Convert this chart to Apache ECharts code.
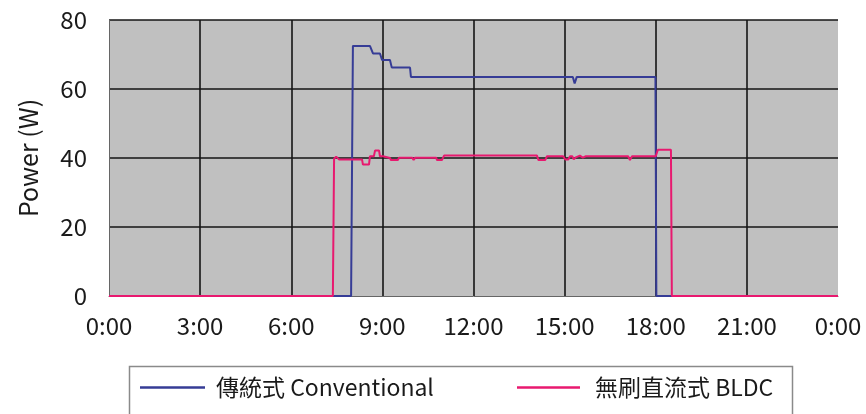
<!DOCTYPE html>
<html>
<head>
<meta charset="utf-8">
<script src="https://cdn.jsdelivr.net/npm/echarts@6/dist/echarts.min.js"></script>
<style>
html,body{margin:0;padding:0;background:#fff;}
#chart{width:866px;height:414px;}
</style>
</head>
<body>
<div id="chart"></div>
<script>
// ---- data (hours of day, watts) ----
const xTickLabels = ['0:00','3:00','6:00','9:00','12:00','15:00','18:00','21:00','0:00'];
const yTickValues = [0, 20, 40, 60, 80];
const seriesNames = ['傳統式 Conventional', '無刷直流式 BLDC'];

const convHours = [0, 7.97, 8.03, 8.59, 8.69, 8.92, 8.99, 9.25, 9.31, 9.91, 9.94, 15.27, 15.33, 15.40, 17.99, 18.02, 24];
const convWatts = [0, 0, 72.5, 72.5, 70.3, 70.3, 68.4, 68.4, 66.2, 66.2, 63.5, 63.5, 61.6, 63.5, 63.5, 0, 0];

const bldcHours = [0, 7.37, 7.41, 7.48, 7.51, 7.57, 8.33, 8.36, 8.56, 8.59, 8.72, 8.76, 8.89, 8.92, 9.02, 9.05, 9.25, 9.28, 9.51, 9.55, 9.98, 10.03, 10.08, 10.77, 10.80, 10.96, 11.03, 14.09, 14.14, 14.36, 14.42, 14.95, 15.02, 15.12, 15.18, 15.25, 15.30, 15.37, 15.50, 15.60, 15.70, 17.09, 17.15, 17.22, 18.0, 18.07, 18.50, 18.53, 24];
const bldcWatts = [0, 0, 39.8, 40.4, 40.4, 39.6, 39.6, 38.1, 38.1, 40.5, 40.5, 42.2, 42.2, 40.5, 40.5, 40.0, 40.0, 39.4, 39.4, 40.1, 40.1, 39.4, 40.1, 40.1, 39.4, 39.4, 40.7, 40.7, 39.4, 39.4, 40.5, 40.5, 39.6, 39.6, 40.5, 40.5, 39.6, 40.2, 40.7, 40.1, 40.5, 40.5, 39.4, 40.5, 40.5, 42.4, 42.4, 0, 0];

const pairs = (xs, ys) => xs.map((x, i) => [x, ys[i]]);

const FONT = "'Noto Sans CJK TC', 'Noto Sans', sans-serif";
const chart = echarts.init(document.getElementById('chart'), null, {renderer: 'canvas'});

chart.setOption({
  animation: false,
  backgroundColor: '#ffffff',
  textStyle: {fontFamily: FONT},
  grid: {
    left: 109, right: 28, top: 20, bottom: 118,
    show: true, backgroundColor: '#c0c0c0', borderWidth: 0
  },
  xAxis: {
    type: 'value', min: 0, max: 24, interval: 3,
    axisLine: {show: true, onZero: false, lineStyle: {color: '#666', width: 1}},
    axisTick: {show: false},
    axisLabel: {
      fontSize: 24, color: '#1a1a1a', fontFamily: FONT, margin: 18,
      formatter: v => xTickLabels[Math.round(v / 3)]
    },
    splitLine: {show: true, showMinLine: false, showMaxLine: false, lineStyle: {color: '#151515', width: 1.6}}
  },
  yAxis: {
    type: 'value', min: 0, max: 80, interval: 20,
    name: 'Power (W)', nameLocation: 'middle', nameRotate: 90, nameGap: 68,
    nameTextStyle: {fontSize: 25, color: '#1a1a1a', fontFamily: FONT},
    axisLine: {show: true, lineStyle: {color: '#666', width: 1}},
    axisTick: {show: false},
    axisLabel: {
      fontSize: 24, color: '#1a1a1a', fontFamily: FONT, margin: 22,
      formatter: v => (yTickValues.indexOf(v) >= 0 ? String(v) : '')
    },
    splitLine: {show: true, showMinLine: false, lineStyle: {color: '#151515', width: 1.6}}
  },
  legend: [
    {
      data: [seriesNames[0]], left: 140, top: 376, icon: 'rect',
      itemWidth: 65, itemHeight: 2.5, padding: 0,
      textStyle: {fontSize: 23, color: '#1a1a1a', fontFamily: FONT, padding: [0, 0, 0, 6]}
    },
    {
      data: [seriesNames[1]], left: 517, top: 376, icon: 'rect',
      itemWidth: 63, itemHeight: 2.5, padding: 0,
      textStyle: {fontSize: 23, color: '#1a1a1a', fontFamily: FONT, padding: [0, 0, 0, 10]}
    }
  ],
  graphic: [{
    type: 'rect', left: 127, top: 364, z: 0,
    shape: {width: 663, height: 70},
    style: {fill: 'none', stroke: '#8a8a8a', lineWidth: 1.5}
  }],
  series: [
    {
      name: seriesNames[0], type: 'line', data: pairs(convHours, convWatts),
      showSymbol: false, symbol: 'none', color: '#363c96',
      lineStyle: {color: '#363c96', width: 2}, z: 3
    },
    {
      name: seriesNames[1], type: 'line', data: pairs(bldcHours, bldcWatts),
      showSymbol: false, symbol: 'none', color: '#e8196f',
      lineStyle: {color: '#e8196f', width: 2}, z: 4
    }
  ]
});
</script>
</body>
</html>
